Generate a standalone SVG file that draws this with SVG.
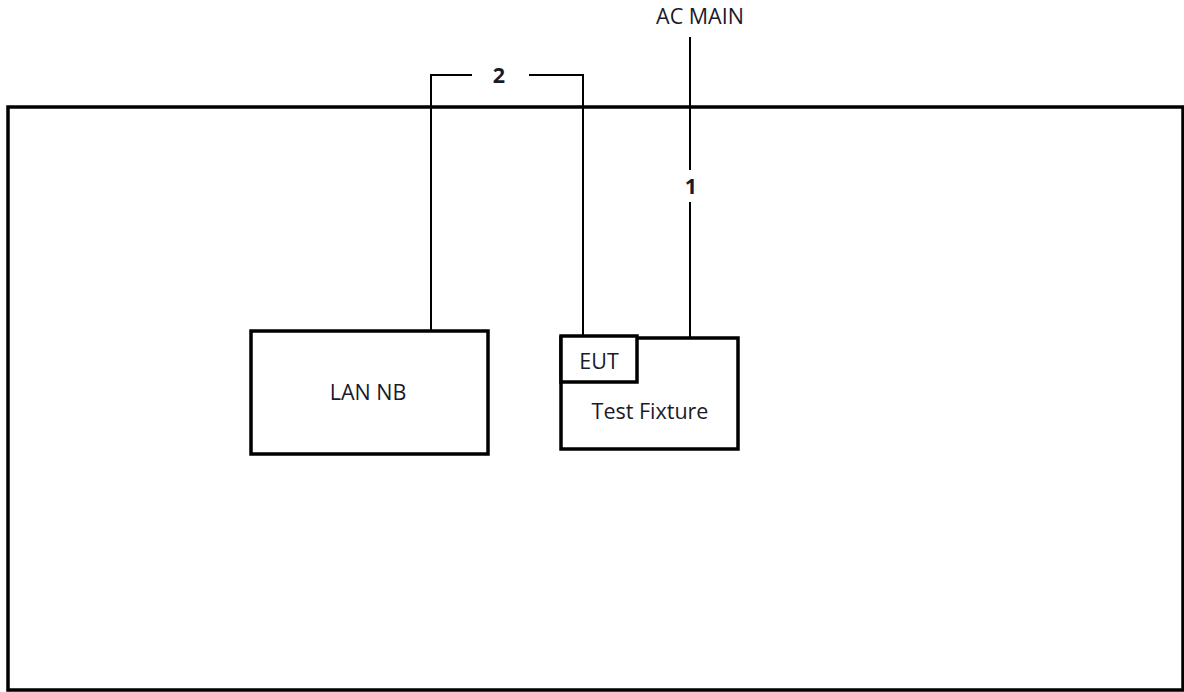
<svg xmlns="http://www.w3.org/2000/svg" width="1184" height="692" viewBox="0 0 1184 692">
<style>
.box{fill:#fff;stroke:#000;stroke-width:3.5}
.ln{fill:none;stroke:#000;stroke-width:2}
.t{font-family:"Open Sans","Liberation Sans",sans-serif;font-size:21.5px;fill:#1a1a2a;text-anchor:middle}
.b{font-weight:bold}
</style>
<rect width="1184" height="692" fill="#fff"/>
<g id="room"><rect class="box" x="8" y="107" width="1175" height="583" fill="none"/></g>
<g id="connectors">
<path class="ln" d="M431 331V75H472M529 75H583V336"/>
<path class="ln" d="M690 37V170M690 202V338"/>
<text class="t b" x="499" y="83">2</text>
<text class="t b" x="691" y="194">1</text>
</g>
<g id="ac-main"><text class="t" x="700" y="24">AC MAIN</text></g>
<g id="lan-nb"><rect class="box" x="251" y="331" width="237" height="123"/><text class="t" x="368" y="400">LAN NB</text></g>
<g id="test-fixture"><rect class="box" x="561" y="338" width="177" height="111"/><text class="t" x="650" y="419">Test Fixture</text></g>
<g id="eut"><rect class="box" x="561" y="336" width="76" height="46"/><text class="t" x="599" y="369">EUT</text></g>
</svg>
